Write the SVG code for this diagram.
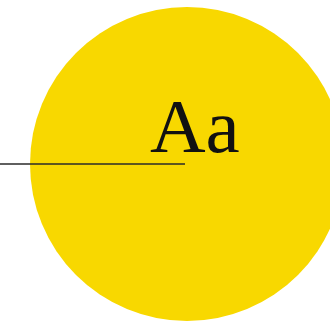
<svg xmlns="http://www.w3.org/2000/svg" width="330" height="322" viewBox="0 0 330 322">
<style>
.bg{fill:#ffffff}
.disc{fill:#F8D800}
.conn{stroke:#2a2a2a;stroke-width:1.6;fill:none}
.lbl{font-family:"Liberation Serif","Times New Roman",serif;font-size:77px;fill:#111111}
</style>
<rect class="bg" x="0" y="0" width="330" height="322"/>
<g id="node-circle">
<circle class="disc" cx="187" cy="164" r="157"/>
<text class="lbl" x="150" y="152">Aa</text>
</g>
<g id="connectors">
<line class="conn" x1="0" y1="164" x2="185" y2="164"/>
</g>
</svg>
